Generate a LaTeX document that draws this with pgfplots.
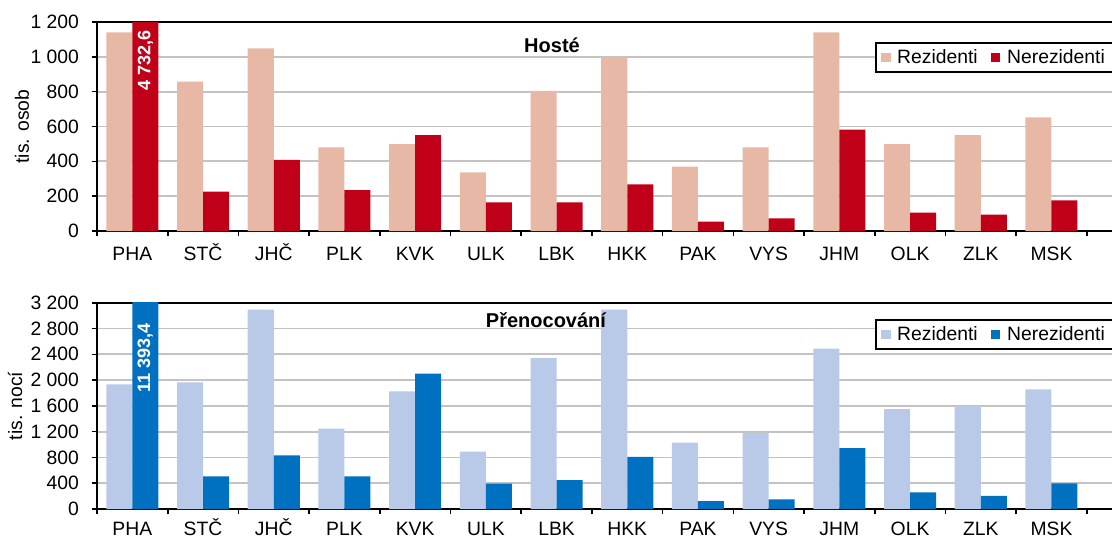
\documentclass[border=0pt]{standalone}
\usepackage{pgfplots}
\pgfplotsset{compat=1.18}
\usepackage{fontspec}
\setmainfont{Liberation Sans}
\definecolor{rezA}{RGB}{232,184,166}
\definecolor{nerA}{RGB}{192,0,24}
\definecolor{rezB}{RGB}{185,202,233}
\definecolor{nerB}{RGB}{0,112,192}
\definecolor{gridc}{RGB}{195,195,195}
\newcommand{\fs}{\fontsize{14.5}{16}\selectfont}
\pgfplotsset{
  ybar legend/.style={legend image code/.code={\fill[##1,draw=none] (0pt,-3.5pt) rectangle (7pt,3.5pt);}},
  mystyle/.style={
    scale only axis, width=766pt,
    xmin=-0.5, xmax=13.946, ymin=0,
    ybar, bar width=0.368,
    axis line style={black, line width=1.2pt},
    tick align=outside, xtick pos=bottom, ytick pos=left,
    xtick={0,...,13},
    xticklabels={PHA,STČ,JHČ,PLK,KVK,ULK,LBK,HKK,PAK,VYS,JHM,OLK,ZLK,MSK},
    minor xtick={-0.5,0.5,...,13.5},
    major x tick style={draw=none},
    minor x tick style={black, line width=1.2pt},
    minor tick length=4pt,
    major y tick style={black, line width=1.2pt},
    major tick length=4pt,
    ymajorgrids, grid style={gridc, line width=1.3pt},
    tick label style={font=\fs},
    yticklabel style={xshift=-6pt},
    xticklabel style={anchor=north, text height=14pt, text depth=0pt, inner ysep=0pt, yshift=-4pt},
    label style={font=\fs},
    legend columns=2,
    legend style={draw=black, line width=1.2pt, font=\fs,
      anchor=north west, inner xsep=4pt, inner ysep=3pt,
      /tikz/every odd column/.append style={column sep=3pt},
      /tikz/every even column/.append style={column sep=8pt}},
    legend cell align=left,
  }
}
\begin{document}
\begin{tikzpicture}
\begin{axis}[mystyle, height=156.75pt, ymax=1200,
  ytick={0,200,...,1200},
  yticklabels={0,200,400,600,800,1 000,1 200},
  ylabel={tis. osob},
  ylabel style={at={(axis description cs:-0.0734,0.5)}, anchor=center},
  legend style={at={(axis description cs:0.7618,0.904)}}]
\addplot[fill=rezA, draw=none, bar shift=-0.184] coordinates {
 (0,1141) (1,857) (2,1049) (3,480) (4,499) (5,337) (6,804)
 (7,997) (8,369) (9,480) (10,1141) (11,499) (12,551) (13,653)};
\addplot[fill=nerA, draw=none, bar shift=0.184] coordinates {
 (0,4732.6) (1,226) (2,408) (3,235) (4,551) (5,165) (6,165)
 (7,268) (8,54) (9,73) (10,582) (11,105) (12,94) (13,176)};
\legend{Rezidenti,Nerezidenti}
\node[rotate=90, anchor=east, inner sep=0pt, text=white, font=\fontsize{13.5}{15}\selectfont\bfseries] at (axis cs:0.184,1154) {4 732,6};
\node[font=\fontsize{15}{17}\selectfont\bfseries] at (axis description cs:0.4455,0.89) {Hosté};
\end{axis}
\begin{axis}[mystyle, at={(0pt,-208.5pt)}, height=154.7pt, ymax=3200,
  ytick={0,400,...,3200},
  yticklabels={0,400,800,1 200,1 600,2 000,2 400,2 800,3 200},
  xticklabel style={yshift=2pt},
  ylabel={tis. nocí},
  ylabel style={at={(axis description cs:-0.0803,0.5)}, anchor=center},
  legend style={at={(axis description cs:0.7618,0.921)}}]
\addplot[fill=rezB, draw=none, bar shift=-0.184] coordinates {
 (0,1934) (1,1965) (2,3092) (3,1246) (4,1825) (5,889) (6,2342)
 (7,3092) (8,1029) (9,1179) (10,2487) (11,1551) (12,1598) (13,1856)};
\addplot[fill=nerB, draw=none, bar shift=0.184] coordinates {
 (0,11393.4) (1,507) (2,832) (3,507) (4,2099) (5,393) (6,450)
 (7,807) (8,124) (9,150) (10,946) (11,259) (12,202) (13,398)};
\legend{Rezidenti,Nerezidenti}
\node[rotate=90, anchor=east, inner sep=0pt, text=white, font=\fontsize{13.5}{15}\selectfont\bfseries] at (axis cs:0.184,2885) {11 393,4};
\node[font=\fontsize{15}{17}\selectfont\bfseries] at (axis description cs:0.4396,0.916) {Přenocování};
\end{axis}
\pgfresetboundingbox
\useasboundingbox (-72.75pt,-231.75pt) rectangle (761.25pt,173.25pt);
\end{tikzpicture}
\end{document}
